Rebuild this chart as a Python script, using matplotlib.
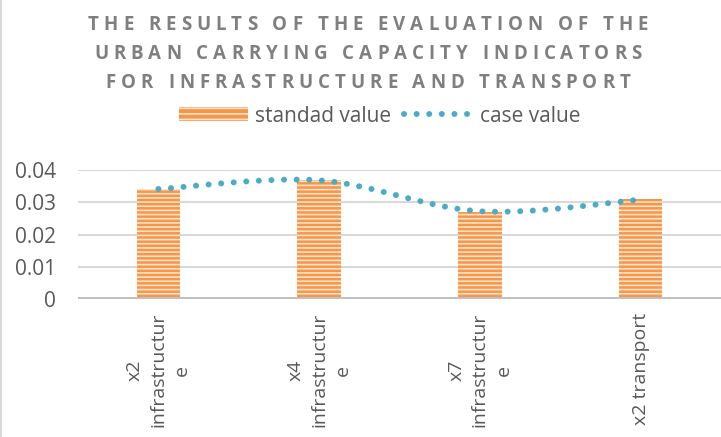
import numpy as np
import matplotlib.pyplot as plt
from matplotlib.path import Path
from matplotlib.patches import PathPatch, Rectangle
from matplotlib.lines import Line2D
from matplotlib.font_manager import FontProperties

plt.rcParams['font.family'] = ['Open Sans', 'DejaVu Sans']
plt.rcParams['hatch.linewidth'] = 1.2

title_lines = ['THE RESULTS OF THE EVALUATION OF THE',
               'URBAN CARRYING CAPACITY INDICATORS',
               'FOR INFRASTRUCTURE AND TRANSPORT']
categories = ['x2\ninfrastructur\ne', 'x4\ninfrastructur\ne',
              'x7\ninfrastructur\ne', 'x2 transport']
standard_value = [0.034, 0.037, 0.027, 0.031]
case_value = [0.0341, 0.0368, 0.0272, 0.0308]
yticks = [0, 0.01, 0.02, 0.03, 0.04]
ytick_labels = ['0', '0.01', '0.02', '0.03', '0.04']

ORANGE = '#f79646'
STRIPE = '#fde3cd'
BLUE = '#4bacc6'
TEXT = '#595959'
GRID = '#d9d9d9'
W, H = 721, 437

fig = plt.figure(figsize=(W / 100, H / 100), dpi=100)
ax = fig.add_axes([78 / W, 1 - 299 / H, 1 - 78 / W, 129 / H])

x = np.arange(len(categories))
ax.bar(x, standard_value, width=0.27, color=ORANGE, edgecolor=STRIPE,
       linewidth=0, hatch='----', zorder=2)


# smoothed line like excel (bezier through the points)
def smooth_path(xs, ys):
    pts = np.column_stack([xs, ys]).astype(float)
    ext = np.vstack([pts[0], pts, pts[-1]])
    verts = [pts[0]]
    codes = [Path.MOVETO]
    for i in range(len(pts) - 1):
        p0, p1, p2, p3 = ext[i], ext[i + 1], ext[i + 2], ext[i + 3]
        verts += [p1 + (p2 - p0) / 6, p2 - (p3 - p1) / 6, p2]
        codes += [Path.CURVE4] * 3
    return Path(verts, codes)


dots = (0, (0.01, 2.1))
ax.add_patch(PathPatch(smooth_path(x, case_value), fill=False, edgecolor=BLUE,
                       linewidth=4.3, linestyle=dots, capstyle='round',
                       transform=ax.transData, zorder=4))

ax.axhline(0, color='#bfbfbf', linewidth=2.8, zorder=3)
ax.set_xlim(-0.5, len(categories) - 0.5)
ax.set_ylim(0, 0.04)
ax.set_yticks(yticks)
ax.set_yticklabels(ytick_labels)
ax.set_xticks(x)
ax.set_xticklabels(categories, rotation=90, ha='center', va='top',
                   multialignment='center', linespacing=1.4)
ax.yaxis.grid(True, color=GRID, linewidth=1.5)
ax.set_axisbelow(True)
for s in ax.spines.values():
    s.set_visible(False)
ax.tick_params(axis='y', length=0, pad=16, labelsize=15, labelcolor=TEXT)
ax.tick_params(axis='x', length=0, pad=10, labelsize=14, labelcolor=TEXT)

# title with letter spacing
r = fig.canvas.get_renderer()
fp = FontProperties(family='Open Sans', weight='bold', size=13.5)


def char_width(ch):
    if ch == ' ':
        return (r.get_text_width_height_descent('a a', fp, False)[0]
                - r.get_text_width_height_descent('aa', fp, False)[0])
    return r.get_text_width_height_descent(ch, fp, False)[0]


first = title_lines[0]
track = (560 - sum(char_width(c) for c in first)) / (len(first) - 1)
for line, base in zip(title_lines, [30, 58.5, 87.5]):
    widths = [char_width(c) for c in line]
    xpos = 368 - (sum(widths) + track * (len(line) - 1)) / 2
    for ch, w in zip(line, widths):
        if ch != ' ':
            fig.text(xpos / W, 1 - base / H, ch, fontproperties=fp,
                     color='#7f7f7f', ha='left', va='baseline')
        xpos += w + track

bar_handle = Rectangle((0, 0), 1, 1, facecolor=ORANGE, edgecolor=STRIPE,
                       linewidth=0, hatch='---')
line_handle = Line2D([], [], color=BLUE, linewidth=4.3, linestyle=dots,
                     dash_capstyle='round')
fig.legend([bar_handle, line_handle], ['standad value', 'case value'],
           loc='center', bbox_to_anchor=(380 / W, 1 - 116 / H), ncol=2,
           frameon=False, fontsize=15, handlelength=3.3, handleheight=0.65,
           handletextpad=0.35, columnspacing=0.6, labelcolor=TEXT)

fig.add_artist(Line2D([0.002, 0.002], [0, 1], transform=fig.transFigure,
                      color=GRID, linewidth=1.5))

fig.savefig('out.png', dpi=100)
